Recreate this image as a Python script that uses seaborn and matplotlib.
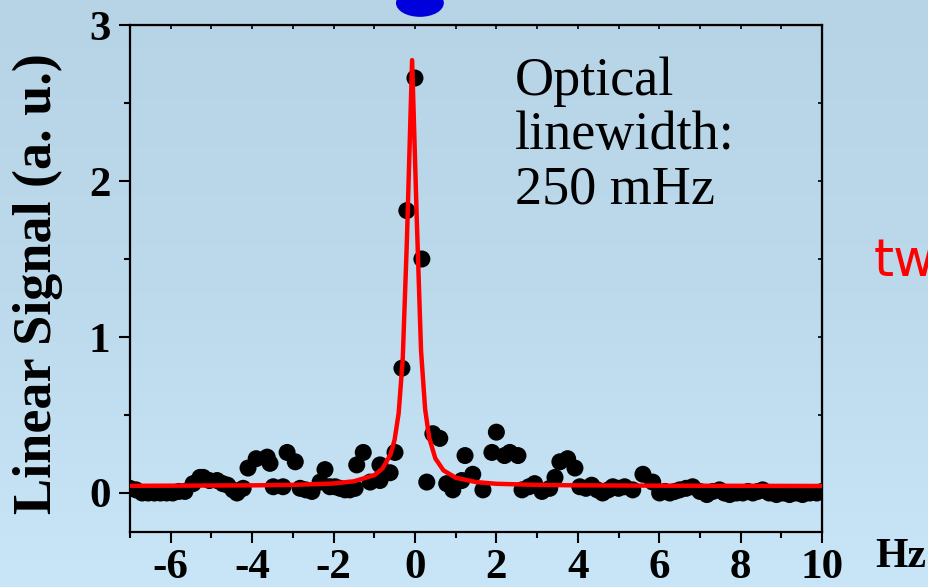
import numpy as np
import pandas as pd
import matplotlib
matplotlib.use("Agg")
import matplotlib.pyplot as plt
import seaborn as sns
from matplotlib.patches import Ellipse
from matplotlib.ticker import MultipleLocator

# measured points (detuning in Hz, signal in a.u.)
freq = [
    -7.0, -6.85, -6.7, -6.55, -6.4, -6.25, -6.1, -5.95, -5.8, -5.65,
    -5.45, -5.28, -5.2, -5.05, -4.86, -4.72, -4.6, -4.47, -4.37, -4.22,
    -4.1, -3.9, -3.63, -3.56, -3.48, -3.24, -3.14, -2.94, -2.82, -2.68,
    -2.53, -2.33, -2.21, -2.09, -1.96, -1.84, -1.72, -1.6, -1.47, -1.43,
    -1.27, -1.1, -0.86, -0.86, -0.61, -0.49, -0.32, -0.2, 0.0, 0.17,
    0.29, 0.44, 0.61, 0.78, 0.93, 1.15, 1.23, 1.42, 1.67, 1.89,
    2.0, 2.2, 2.33, 2.53, 2.63, 2.8, 2.94, 3.12, 3.31, 3.44,
    3.56, 3.75, 3.93, 4.05, 4.2, 4.34, 4.48, 4.61, 4.75, 4.86,
    5.0, 5.15, 5.35, 5.6, 5.84, 6.01, 6.14, 6.26, 6.38, 6.5,
    6.66, 6.82, 7.0, 7.17, 7.32, 7.48, 7.6, 7.73, 7.9, 8.05,
    8.18, 8.3, 8.42, 8.54, 8.7, 8.88, 9.04, 9.2, 9.36, 9.52,
    9.7, 9.87, 10.0,
]
signal = [
    0.03, 0.02, 0.0, 0.0, 0.0, 0.0, 0.0, 0.0, 0.01, 0.01,
    0.06, 0.1, 0.1, 0.08, 0.08, 0.06, 0.05, 0.02, 0.0, 0.03,
    0.16, 0.22, 0.23, 0.19, 0.04, 0.04, 0.26, 0.2, 0.03, 0.02,
    0.01, 0.07, 0.15, 0.04, 0.04, 0.03, 0.02, 0.02, 0.03, 0.18,
    0.26, 0.07, 0.08, 0.18, 0.13, 0.26, 0.8, 1.81, 2.66, 1.5,
    0.07, 0.38, 0.35, 0.06, 0.02, 0.08, 0.24, 0.12, 0.02, 0.26,
    0.39, 0.24, 0.26, 0.24, 0.02, 0.04, 0.06, 0.01, 0.03, 0.1,
    0.2, 0.22, 0.16, 0.04, 0.03, 0.05, 0.02, 0.0, 0.02, 0.04,
    0.03, 0.04, 0.02, 0.12, 0.07, 0.0, 0.01, 0.0, 0.01, 0.02,
    0.03, 0.04, 0.01, -0.01, 0.01, 0.02, 0.0, -0.01, 0.0, 0.0,
    0.01, 0.0, 0.01, 0.02, 0.0, -0.01, 0.0, -0.01, 0.0, -0.01,
    0.0, 0.0, 0.01,
]

# Lorentzian fit curve
fit_freq = [-7.0, -5.0, -4.0, -3.0, -2.0, -1.5, -1.0, -0.8, -0.6, -0.5,
            -0.4, -0.3, -0.2, -0.07, 0.05, 0.15, 0.25, 0.35, 0.5, 0.7,
            1.0, 1.5, 2.0, 3.0, 4.0, 6.0, 8.0, 10.0]
fit_signal = [0.046, 0.048, 0.049, 0.052, 0.061, 0.075, 0.114, 0.156, 0.247, 0.341,
              0.512, 0.86, 1.60, 2.775, 1.71, 0.91, 0.537, 0.354, 0.222, 0.145,
              0.098, 0.070, 0.059, 0.052, 0.049, 0.047, 0.046, 0.045]

x_ticks = [-6, -4, -2, 0, 2, 4, 6, 8, 10]
y_ticks = [0, 1, 2, 3]

df = pd.DataFrame({"freq": freq, "signal": signal})
fit = pd.DataFrame({"freq": fit_freq, "signal": fit_signal})

sns.set_style("ticks")
plt.rcParams['font.family'] = ['Liberation Serif', 'DejaVu Serif']
plt.rcParams['axes.unicode_minus'] = False
plt.rcParams['text.color'] = 'black'
plt.rcParams['xtick.color'] = 'black'
plt.rcParams['ytick.color'] = 'black'
plt.rcParams['axes.labelcolor'] = 'black'
plt.rcParams['axes.edgecolor'] = 'black'

fig = plt.figure(figsize=(9.29, 5.87), dpi=100)

# slide background gradient
bg = fig.add_axes([0, 0, 1, 1], zorder=-10)
grad = np.linspace(0, 1, 256)[:, None]
bg.imshow(grad, aspect='auto', cmap=matplotlib.colors.LinearSegmentedColormap.from_list(
    'bg', ['#b7d4e6', '#bcdaec', '#c8e6f8']), extent=[0, 1, 1, 0])
bg.set_axis_off()
bg.add_patch(Ellipse((0.452, 0.995), 0.05, 0.045, color='#0000dd', transform=bg.transAxes))
bg.set_xlim(0, 1)
bg.set_ylim(1, 0)

ax = fig.add_axes([0.1399, 0.0937, 0.745, 0.8637])
ax.set_facecolor('none')

sns.scatterplot(data=df, x="freq", y="signal", ax=ax, color='black', s=150,
                edgecolor='none', zorder=2)
sns.lineplot(data=fit, x="freq", y="signal", ax=ax, color='#ff0000', lw=3.2, zorder=3)

ax.set_xlim(-7, 10)
ax.set_ylim(-0.25, 3)
ax.set_xticks(x_ticks)
ax.set_yticks(y_ticks)
ax.xaxis.set_minor_locator(MultipleLocator(1))
ax.yaxis.set_minor_locator(MultipleLocator(0.5))
ax.tick_params(which='major', length=8, width=1.5, direction='out')
ax.tick_params(which='minor', length=4.5, width=1.5, direction='out')
ax.tick_params(axis='x', pad=4)
ax.tick_params(axis='y', pad=6)
ax.tick_params(labelsize=31)
for lab in ax.get_xticklabels() + ax.get_yticklabels():
    lab.set_fontweight('bold')
for sp in ax.spines.values():
    sp.set_linewidth(1.6)
    sp.set_visible(True)

top = ax.secondary_xaxis('top')
top.set_xticks(range(-7, 11))
top.tick_params(direction='in', length=3, width=1.2, labeltop=False)
right = ax.secondary_yaxis('right')
right.set_yticks([0.0, 0.5, 1.0, 1.5, 2.0, 2.5])
right.tick_params(direction='in', length=3, width=1.2, labelright=False)

ax.set_xlabel('')
ax.set_ylabel('Linear Signal (a. u.)', fontsize=39, fontweight='bold')
ax.yaxis.set_label_coords(-0.097, 0.49)

fig.text(0.97, 0.051, 'Hz', fontsize=30, fontweight='bold', ha='center', va='center')
ax.text(2.45, 2.8, 'Optical\nlinewidth:\n250 mHz', fontsize=39, va='top', ha='left',
        linespacing=1.1)
fig.text(0.94, 0.553, 'tw', color='#ff0000', fontsize=37, family='DejaVu Sans',
         va='center', ha='left')

fig.savefig('out.png', dpi=100)
